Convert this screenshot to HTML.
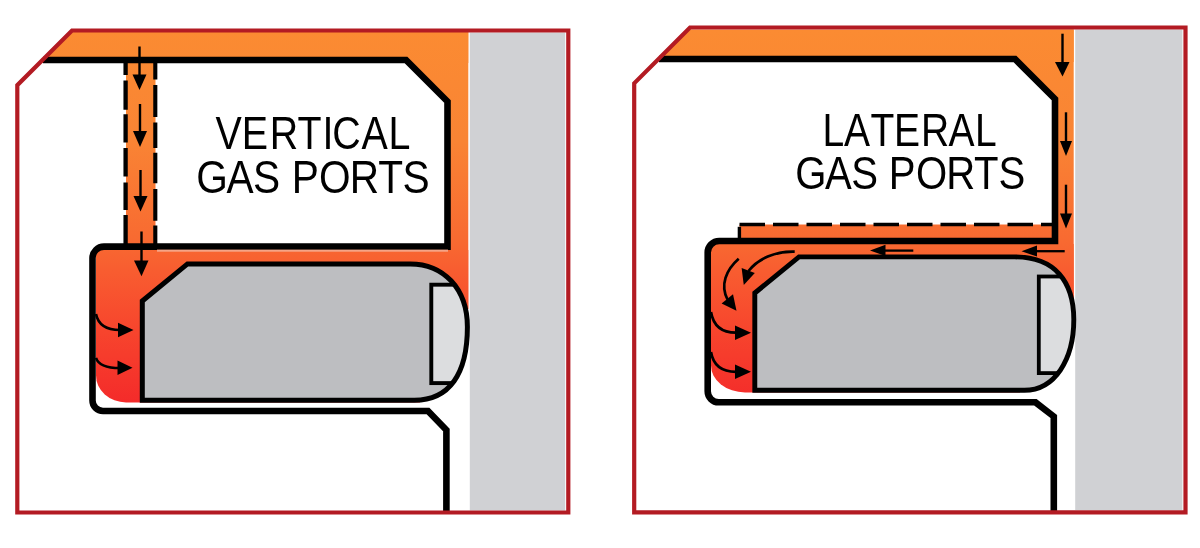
<!DOCTYPE html>
<html><head><meta charset="utf-8">
<style>
html,body{margin:0;padding:0;background:#fff;width:1200px;height:548px;overflow:hidden}
svg{display:block;will-change:transform}
text{font-family:"Liberation Sans",sans-serif;fill:#000}
.tx{opacity:0.999}
</style></head>
<body>
<svg width="1200" height="548" viewBox="0 0 1200 548">
<defs>
<linearGradient id="gas" gradientUnits="userSpaceOnUse" x1="0" y1="30" x2="0" y2="405">
<stop offset="0" stop-color="#fb8b32"/>
<stop offset="0.293" stop-color="#f98434"/>
<stop offset="0.56" stop-color="#f86a31"/>
<stop offset="0.64" stop-color="#f85d30"/>
<stop offset="0.8" stop-color="#f7452d"/>
<stop offset="1" stop-color="#f42a2a"/>
</linearGradient>
<clipPath id="cpL"><path d="M187.5,263.9 H410.3 C443,263.9 467.4,288 467.4,327 C467.4,374 449.3,400.2 414.3,400.2 H142.3 V301 Z"/></clipPath>
<clipPath id="cpR"><path d="M799,256.9 H1014.8 C1055,256.9 1073.8,281.7 1073.8,319.6 C1073.8,359.9 1054.5,390.3 1024.4,390.3 H754.8 V293 Z"/></clipPath>
</defs>
<rect width="1200" height="548" fill="#fff"/>

<!-- ============ LEFT PANEL ============ -->
<rect x="469.8" y="32.5" width="95.4" height="478" fill="#d0d1d4"/>
<!-- gas -->
<path d="M72,32 H468.3 V63 H40 Z" fill="url(#gas)"/>
<rect x="126" y="60" width="30" height="190" fill="url(#gas)"/>
<rect x="400" y="32" width="68.3" height="280" fill="url(#gas)"/>
<path d="M96,250 H468.3 V402.4 H126 A30,27 0 0 1 96,375.4 Z" fill="url(#gas)"/>
<rect x="420" y="309" width="49" height="100" fill="#fff"/>
<!-- white box -->
<path d="M155.5,60 H406 L447.5,101.5 V246.5 H155.5 Z" fill="#fff"/>
<!-- black main outline -->
<path d="M43,60 H406 L447.5,101.5 V246.6 H104 A11.5,11.5 0 0 0 92.5,258.1 V400.5 A10.5,10.5 0 0 0 103,411 H428 L446.4,430 V512" fill="none" stroke="#000" stroke-width="6.6" stroke-linejoin="miter"/>
<rect x="157" y="249.6" width="291" height="2.1" fill="#f6a486"/>
<!-- port dashed lines -->
<path d="M125.6,63V75M125.6,80.5V109.7M125.6,114.3V142.6M125.6,148V176.6M125.6,182.4V210M125.6,215V244" stroke="#000" stroke-width="4.3" fill="none"/>
<path d="M155.3,63V79.6M155.3,85.1V117M155.3,122.5V147.9M155.3,152.7V183.3M155.3,189V220.7M155.3,225.5V244" stroke="#000" stroke-width="4.1" fill="none"/>
<!-- piston -->
<path d="M187.5,263.9 H410.3 C443,263.9 467.4,288 467.4,327 C467.4,374 449.3,400.2 414.3,400.2 H142.3 V301 Z" fill="#bdbec1"/>
<rect x="431.3" y="284.7" width="60" height="98.4" fill="#dcdddf" stroke="#000" stroke-width="3.9" clip-path="url(#cpL)"/>
<path d="M187.5,263.9 H410.3 C443,263.9 467.4,288 467.4,327 C467.4,374 449.3,400.2 414.3,400.2 H142.3 V301 Z" fill="none" stroke="#000" stroke-width="5" stroke-linejoin="miter"/>
<!-- arrows vertical -->
<g stroke="#000" stroke-width="2.4" fill="#000">
<line x1="139.5" y1="46.5" x2="139.5" y2="78"/><path d="M132.5,74.5 H146.5 L139.5,90 Z" stroke="none"/>
<line x1="140" y1="104" x2="140" y2="135"/><path d="M133,131 H147 L140,147 Z" stroke="none"/>
<line x1="140.5" y1="170" x2="140.5" y2="200"/><path d="M133.5,196 H147.5 L140.5,211.5 Z" stroke="none"/>
<line x1="141.5" y1="231.5" x2="141.5" y2="263"/><path d="M134,260.4 H148.5 L141.5,276.3 Z" stroke="none"/>
</g>
<!-- curved arrows left -->
<g stroke="#000" stroke-width="2.6" fill="none">
<path d="M96,314 C98,324 106,330 120,330"/>
<path d="M96,357.8 C98,364 106,368 120,368"/>
</g>
<g fill="#000">
<path d="M118,322.8 L133.5,330 L118,337.2 Z"/>
<path d="M117.5,360.5 L132.5,367.7 L117.5,375 Z"/>
</g>
<!-- red outline -->
<path d="M72,30.5 H568.3 V512.5 H17.3 V85.2 Z" fill="none" stroke="#b31b23" stroke-width="4.2" stroke-linejoin="miter"/>
<text class="tx" transform="translate(0,149.3) scale(0.8566,1)" x="251.53 282.26 315.05 347.45 376.46 387.89 421.91 453.45" font-size="46">VERTICAL</text>
<text class="tx" transform="translate(0,193.1) scale(0.8841,1)" x="221.88 256.11 286.09 296.09 330.14 360.79 395.74 427.86 455.29" font-size="46">GAS PORTS</text>

<!-- ============ RIGHT PANEL ============ -->
<rect x="1075.2" y="29.5" width="107.2" height="480.5" fill="#d0d1d4"/>
<path d="M690,29.5 H1073.7 V62 H656 Z" fill="url(#gas)"/>
<rect x="1010" y="29.5" width="63.7" height="272" fill="url(#gas)"/>
<rect x="739.5" y="224" width="316" height="17" fill="url(#gas)"/>
<path d="M711,244 H1073.7 V392.4 H745 A34,27 0 0 1 711,365.4 Z" fill="url(#gas)"/>
<rect x="1020" y="298" width="55" height="102" fill="#fff"/>
<path d="M640,59 H1015 L1055,99 V224.5 H640 Z" fill="#fff"/>
<!-- black main outline -->
<path d="M659,59 H1015 L1055,99 V241 H719.2 A11.5,11.5 0 0 0 707.7,252.5 V391.3 A11,11 0 0 0 718.7,402.3 H1035.5 L1053.8,416.5 V512" fill="none" stroke="#000" stroke-width="6.6" stroke-linejoin="miter"/>
<!-- lateral port -->
<line x1="739.5" y1="224.5" x2="1052" y2="224.5" stroke="#000" stroke-width="3.6" stroke-dasharray="25.5 8"/>
<line x1="739.4" y1="226.8" x2="739.4" y2="238.5" stroke="#000" stroke-width="3.4"/>
<!-- piston -->
<path d="M799,256.9 H1014.8 C1055,256.9 1073.8,281.7 1073.8,319.6 C1073.8,359.9 1054.5,390.3 1024.4,390.3 H754.8 V293 Z" fill="#bdbec1"/>
<rect x="1038.8" y="276.5" width="60" height="96.6" fill="#dcdddf" stroke="#000" stroke-width="3.8" clip-path="url(#cpR)"/>
<path d="M799,256.9 H1014.8 C1055,256.9 1073.8,281.7 1073.8,319.6 C1073.8,359.9 1054.5,390.3 1024.4,390.3 H754.8 V293 Z" fill="none" stroke="#000" stroke-width="4.9" stroke-linejoin="miter"/>
<!-- arrows vertical right column -->
<g stroke="#000" stroke-width="2.4" fill="#000">
<line x1="1062.5" y1="33.7" x2="1062.5" y2="64"/><path d="M1055,62 H1069.5 L1062.5,76.6 Z" stroke="none"/>
<line x1="1066" y1="112.3" x2="1066" y2="143"/><path d="M1060,141 H1072 L1066,156 Z" stroke="none"/>
<line x1="1066" y1="184.7" x2="1066" y2="215"/><path d="M1060,213.4 H1072 L1066,228.4 Z" stroke="none"/>
</g>
<!-- lateral arrow -->
<line x1="913.3" y1="250.6" x2="884" y2="250.6" stroke="#000" stroke-width="2.3"/>
<path d="M885.5,244.8 V256 L870,250.6 Z" fill="#000"/>
<line x1="1064.7" y1="251.2" x2="1035" y2="251.2" stroke="#000" stroke-width="2.3"/>
<path d="M1037,245.4 V256.6 L1021.5,251.2 Z" fill="#000"/>
<!-- curved arrows right -->
<g stroke="#000" stroke-width="2.7" fill="none">
<path d="M794.7,251.6 C775,251 758,259 748.5,271"/>
<path d="M738.7,258.8 C726,270 720,285 727.5,299.5"/>
<path d="M711,312 C713,324 720,332.7 736,332.7"/>
<path d="M711,352 C713,364 720,371.8 736,371.8"/>
</g>
<g fill="#000">
<path d="M741.6,268 L754.8,272.9 L743.8,285 Z"/>
<path d="M721.6,303.5 L733,294.3 L736.5,310.8 Z"/>
<path d="M735,325.5 L751,332.7 L735,340 Z"/>
<path d="M735,364.6 L751,371.8 L735,379 Z"/>
</g>
<!-- red outline -->
<path d="M690,27.5 H1185.5 V512.3 H634.2 V83.3 Z" fill="none" stroke="#b31b23" stroke-width="4.2" stroke-linejoin="miter"/>
<text class="tx" transform="translate(0,146.0) scale(0.8486,1)" x="969.39 994.72 1025.83 1053.62 1085.25 1117.86 1148.86" font-size="46">LATERAL</text>
<text class="tx" transform="translate(0,189.2) scale(0.8718,1)" x="912.07 946.46 976.30 986.30 1019.37 1050.66 1085.49 1117.24 1145.20" font-size="46">GAS PORTS</text>
</svg>
</body></html>
